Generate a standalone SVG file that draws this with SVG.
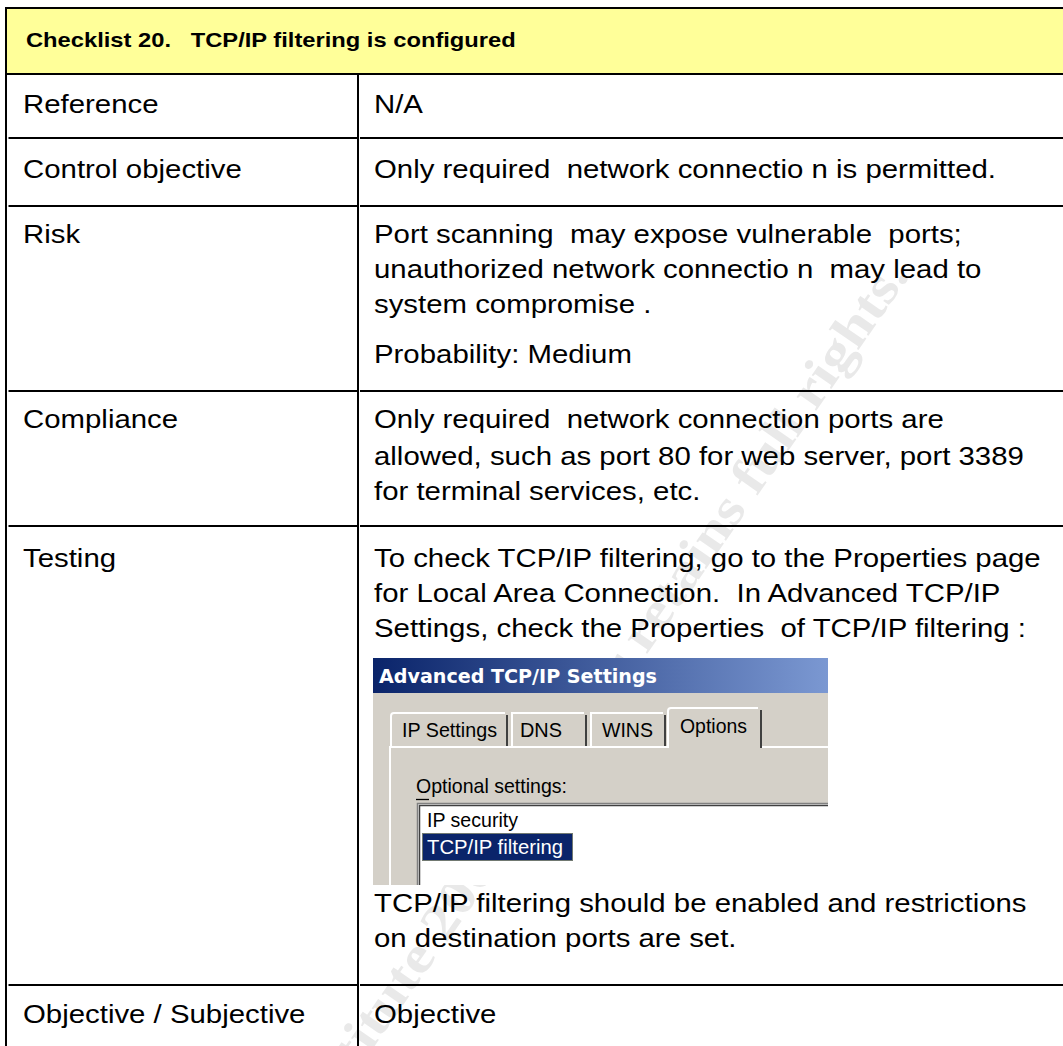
<svg xmlns="http://www.w3.org/2000/svg" width="1063" height="1046" viewBox="0 0 1063 1046">
  <defs>
    <linearGradient id="titleGrad" x1="0" y1="0" x2="1" y2="0">
      <stop offset="0" stop-color="#0a246a"/>
      <stop offset="1" stop-color="#7b98d2"/>
    </linearGradient>
    <style>
      .t{font-family:"Liberation Sans",Arial,sans-serif;font-size:26px;fill:#000;white-space:pre}
      .h{font-family:"Liberation Sans",Arial,sans-serif;font-size:21px;font-weight:bold;fill:#000;white-space:pre}
      .rule{stroke:#000;stroke-width:2;fill:none}
      .wm{font-family:"Liberation Serif","Times New Roman",serif;font-weight:bold;font-size:52px;fill:#e9e9e9}
      .ui{font-family:"Liberation Sans",Arial,sans-serif;font-size:21px;fill:#000}
      .ttl{font-family:"DejaVu Sans",Verdana,sans-serif;font-weight:bold;font-size:19px;fill:#fff}
      .hl{stroke:#fff;stroke-width:2;fill:none}
      .sh{stroke:#404040;stroke-width:2;fill:none}
      .sh2{stroke:#808080;stroke-width:1.5;fill:none}
    </style>
  </defs>

  <rect width="1063" height="1046" fill="#fff"/>

  <!-- faint diagonal watermark behind the table text -->
  <text class="wm" transform="translate(180 1326) rotate(-55.2)" textLength="1280" lengthAdjust="spacingAndGlyphs">© SANS Institute 2004, Author retains full rights.</text>

  <!-- header row -->
  <g id="header">
    <rect x="7" y="8" width="1056" height="66" fill="#ffff99"/>
    <text class="h" transform="translate(26 47) scale(1.13 1)">Checklist 20.   TCP/IP filtering is configured</text>
  </g>

  <!-- table rules -->
  <g id="rules" class="rule">
    <path d="M6 8H1063"/>
    <path d="M6 7V1046"/>
    <path d="M6 74H1063"/>
    <path d="M358 75V1046"/>
    <path d="M8.5 138H357M360 138H1063"/>
    <path d="M8.5 206H357M360 206H1063"/>
    <path d="M8.5 391H357M360 391H1063"/>
    <path d="M8.5 526H357M360 526H1063"/>
    <path d="M8.5 985H357M360 985H1063"/>
  </g>

  <g id="row-reference">
    <text class="t" transform="translate(23 113) scale(1.13 1)">Reference</text>
    <text class="t" transform="translate(374 113) scale(1.13 1)">N/A</text>
  </g>

  <g id="row-control">
    <text class="t" transform="translate(23 178) scale(1.13 1)">Control objective</text>
    <text class="t" transform="translate(374 178) scale(1.13 1)">Only required  network connectio n is permitted.</text>
  </g>

  <g id="row-risk">
    <text class="t" transform="translate(23 243) scale(1.13 1)">Risk</text>
    <text class="t" transform="translate(374 243) scale(1.13 1)">Port scanning  may expose vulnerable  ports;</text>
    <text class="t" transform="translate(374 278) scale(1.13 1)">unauthorized network connectio n  may lead to</text>
    <text class="t" transform="translate(374 313) scale(1.13 1)">system compromise .</text>
    <text class="t" transform="translate(374 363) scale(1.13 1)">Probability: Medium</text>
  </g>

  <g id="row-compliance">
    <text class="t" transform="translate(23 428) scale(1.13 1)">Compliance</text>
    <text class="t" transform="translate(374 428) scale(1.13 1)">Only required  network connection ports are</text>
    <text class="t" transform="translate(374 465) scale(1.13 1)">allowed, such as port 80 for web server, port 3389</text>
    <text class="t" transform="translate(374 500) scale(1.13 1)">for terminal services, etc.</text>
  </g>

  <g id="row-testing">
    <text class="t" transform="translate(23 567) scale(1.13 1)">Testing</text>
    <text class="t" transform="translate(374 567) scale(1.13 1)">To check TCP/IP filtering, go to the Properties page</text>
    <text class="t" transform="translate(374 602) scale(1.13 1)">for Local Area Connection.  In Advanced TCP/IP</text>
    <text class="t" transform="translate(374 637) scale(1.13 1)">Settings, check the Properties  of TCP/IP filtering :</text>
    <text class="t" transform="translate(374 912) scale(1.13 1)">TCP/IP filtering should be enabled and restrictions</text>
    <text class="t" transform="translate(374 947) scale(1.13 1)">on destination ports are set.</text>
  </g>

  <!-- dialog capture: Advanced TCP/IP Settings, Options tab -->
  <g id="dialog">
    <rect x="373" y="658" width="455" height="227" fill="#d4d0c8"/>
    <rect x="373" y="658" width="455" height="35" fill="url(#titleGrad)"/>
    <text class="ttl" x="379" y="683" textLength="278" lengthAdjust="spacingAndGlyphs">Advanced TCP/IP Settings</text>

    <!-- panel edge -->
    <path class="hl" d="M390 885V747H667M762 747H828"/>

    <!-- tabs -->
    <path class="hl" d="M391 747V716Q391 713 394 713H505"/>
    <path class="sh" d="M507 715V746"/>
    <path class="hl" d="M512 747V713H584"/>
    <path class="sh" d="M586 715V746"/>
    <path class="hl" d="M591 747V713H663"/>
    <path class="sh" d="M665 715V746"/>
    <path class="hl" d="M668 748V711Q668 708 671 708H758"/>
    <path class="sh" d="M761 710V748"/>

    <text class="ui" x="402" y="737" textLength="95" lengthAdjust="spacingAndGlyphs">IP Settings</text>
    <text class="ui" x="520" y="737" textLength="42" lengthAdjust="spacingAndGlyphs">DNS</text>
    <text class="ui" x="602" y="737" textLength="51" lengthAdjust="spacingAndGlyphs">WINS</text>
    <text class="ui" x="680" y="733" textLength="67" lengthAdjust="spacingAndGlyphs">Options</text>

    <text class="ui" x="416" y="793" textLength="151" lengthAdjust="spacingAndGlyphs">Optional settings:</text>
    <path d="M416 799.5H429" stroke="#000" stroke-width="1.3"/>

    <!-- list box -->
    <rect x="417" y="803" width="411" height="82" fill="#fff"/>
    <path class="sh2" d="M417.5 885V803.5H828"/>
    <path d="M419.5 885V805.5H828" stroke="#404040" stroke-width="1.5" fill="none"/>
    <text class="ui" x="427" y="827" textLength="91" lengthAdjust="spacingAndGlyphs">IP security</text>
    <rect x="422" y="833" width="151" height="28" fill="#0a246a"/>
    <rect x="422.5" y="833.5" width="150" height="27" fill="none" stroke="#d8cf78" stroke-width="1" stroke-dasharray="1 1"/>
    <text class="ui" x="427" y="854" textLength="136" lengthAdjust="spacingAndGlyphs" style="fill:#fff">TCP/IP filtering</text>
  </g>

  <g id="row-objective">
    <text class="t" transform="translate(23 1023) scale(1.13 1)">Objective / Subjective</text>
    <text class="t" transform="translate(374 1023) scale(1.13 1)">Objective</text>
  </g>
</svg>
